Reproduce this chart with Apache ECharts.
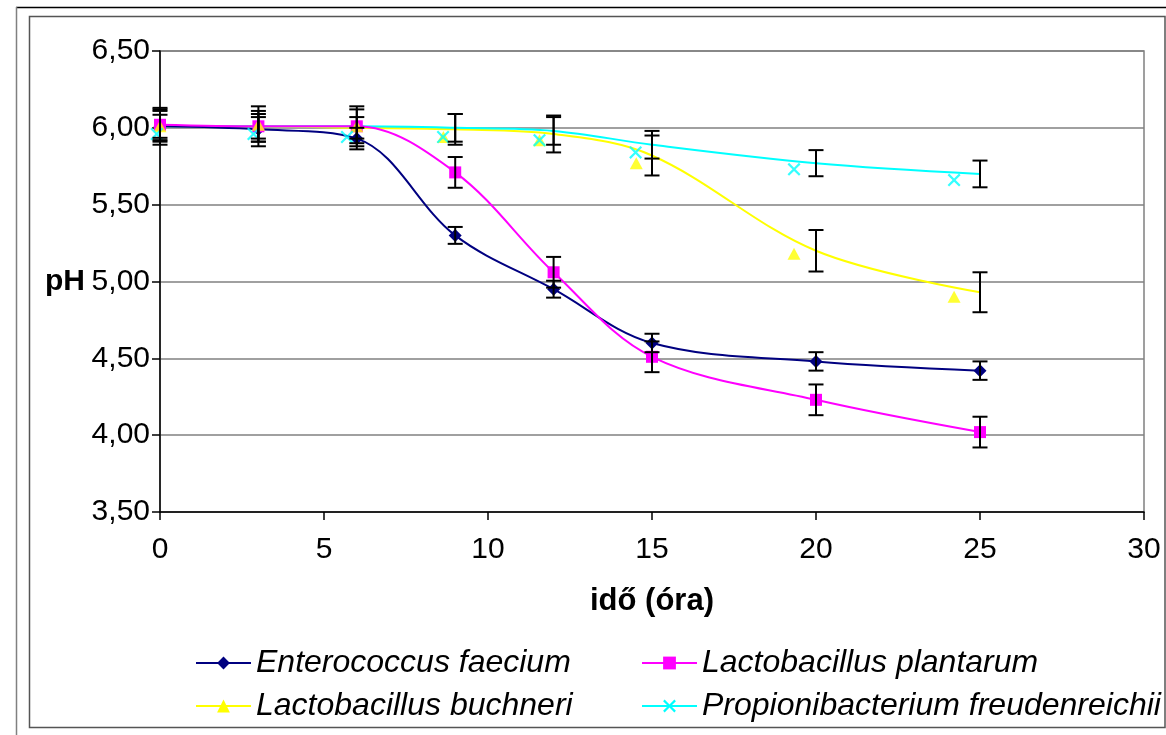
<!DOCTYPE html>
<html><head><meta charset="utf-8">
<script src="https://cdn.jsdelivr.net/npm/echarts@6/dist/echarts.min.js"></script>
<style>html,body{margin:0;padding:0;background:#fff}#c{width:1166px;height:735px}</style>
</head><body><div id="c"></div>
<script>
// ---- data ----
const timeH = [0, 3, 6, 9, 12, 15, 20, 25];

const faecium    = [6.01, 5.99, 5.93, 5.30, 4.95, 4.60, 4.48, 4.42];
const faeciumErr = [0.075, 0.08, 0.07, 0.055, 0.055, 0.06, 0.06, 0.06];

const plantarum    = [6.02, 6.01, 6.01, 5.71, 5.06, 4.51, 4.23, 4.02];
const plantarumErr = [0.10, 0.10, 0.11, 0.10, 0.10, 0.10, 0.10, 0.10];

const buchneriCurve = [6.01, 6.01, 6.00, 5.99, 5.96, 5.82, 5.20, 4.93];
const buchneriErr   = [0.12, 0.13, 0.07, 0.10, 0.12, 0.13, 0.135, 0.13];
const buchneriMarkX = [0, 3, 6, 8.64, 11.57, 14.52, 19.33, 24.21];
const buchneriMarkY = [6.01, 6.02, 6.01, 5.94, 5.92, 5.77, 5.18, 4.90];

const freudCurve = [6.01, 6.01, 6.01, 6.00, 5.98, 5.89, 5.77, 5.70];
const freudErr   = [0.10, 0.08, 0.13, 0.09, 0.09, 0.09, 0.085, 0.087];
const freudMarkX = [-0.1, 2.85, 5.7, 8.63, 11.57, 14.5, 19.33, 24.21];
const freudMarkY = [5.96, 5.96, 5.94, 5.94, 5.92, 5.84, 5.73, 5.66];

const seriesNames = ['Enterococcus faecium', 'Lactobacillus plantarum', 'Lactobacillus buchneri', 'Propionibacterium freudenreichii'];
const xAxisTitle = 'idő (óra)';
const yAxisTitle = 'pH';
const xRange = [0, 30, 5];
const yRange = [3.5, 6.5, 0.5];

// ---- helpers ----
const FONT = "'Liberation Sans', Arial, sans-serif";
const pairs = (xs, ys) => xs.map((x, i) => [x, ys[i]]);
const triples = (xs, ys, es) => xs.map((x, i) => [x, ys[i], es[i]]);
const crossPath = 'path://M0,1.2L1.2,0L5,3.8L8.8,0L10,1.2L6.2,5L10,8.8L8.8,10L5,6.2L1.2,10L0,8.8L3.8,5Z';

function renderErr(params, api) {
  const x = api.value(0), y = api.value(1), e = api.value(2);
  const t = api.coord([x, y + e]);
  const b = api.coord([x, y - e]);
  const hw = 7.5;
  const st = { stroke: '#000', lineWidth: 2 };
  return { type: 'group', children: [
    { type: 'line', shape: { x1: t[0], y1: t[1], x2: b[0], y2: b[1] }, style: st },
    { type: 'line', shape: { x1: t[0] - hw, y1: t[1], x2: t[0] + hw, y2: t[1] }, style: st },
    { type: 'line', shape: { x1: b[0] - hw, y1: b[1], x2: b[0] + hw, y2: b[1] }, style: st }
  ]};
}
function errSeries(name, ys, es) {
  return { name: name + ' err', type: 'custom', renderItem: renderErr,
    data: triples(timeH, ys, es), encode: { x: 0, y: 1 }, z: 5, silent: true };
}
const legendText = { fontFamily: FONT, fontSize: 32, fontStyle: 'italic', color: '#000' };
function legend(name, left, top) {
  return { data: [name], left: left, top: top, itemWidth: 55, itemHeight: 16,
    textStyle: legendText, selectedMode: false, padding: 0 };
}

const chart = echarts.init(document.getElementById('c'), null, { renderer: 'canvas' });
chart.setOption({
  animation: false,
  backgroundColor: '#fff',
  graphic: [
    { type: 'line', shape: { x1: 16, y1: 7.5, x2: 1166, y2: 7.5 }, style: { stroke: '#000', lineWidth: 1.5 } },
    { type: 'line', shape: { x1: 16.5, y1: 7, x2: 16.5, y2: 735 }, style: { stroke: '#808080', lineWidth: 1.5 } },
    { type: 'rect', shape: { x: 29.5, y: 16.5, width: 1135.5, height: 711 }, style: { fill: 'none', stroke: '#555', lineWidth: 1.5 } }
  ],
  grid: { left: 160, right: 22, top: 51, bottom: 223, show: true, borderColor: '#808080', borderWidth: 1.5,
    containLabel: false, outerBoundsMode: 'none' },
  xAxis: {
    type: 'value', min: xRange[0], max: xRange[1], interval: xRange[2],
    name: xAxisTitle, nameLocation: 'middle', nameGap: 74,
    nameTextStyle: { fontFamily: FONT, fontSize: 31, fontWeight: 'bold', color: '#000' },
    axisLine: { show: true, lineStyle: { color: '#000', width: 1.5 } },
    axisTick: { show: true, length: 8, lineStyle: { color: '#000', width: 1.5 } },
    axisLabel: { fontFamily: FONT, fontSize: 30, color: '#000', margin: 23 },
    splitLine: { show: false }
  },
  yAxis: {
    type: 'value', min: yRange[0], max: yRange[1], interval: yRange[2],
    name: yAxisTitle, nameLocation: 'middle', nameRotate: 0, nameGap: 75,
    nameTextStyle: { fontFamily: FONT, fontSize: 30, fontWeight: 'bold', color: '#000', align: 'right', verticalAlign: 'middle', padding: [0, 0, 6, 0] },
    axisLine: { show: true, lineStyle: { color: '#000', width: 1.5 } },
    axisTick: { show: true, length: 8, lineStyle: { color: '#000', width: 1.5 } },
    axisLabel: { fontFamily: FONT, fontSize: 30, color: '#000', margin: 10, padding: [12, 0, 0, 0],
      formatter: v => v.toFixed(2).replace('.', ',') },
    splitLine: { show: true, lineStyle: { color: '#808080', width: 1.5 } }
  },
  legend: [
    legend(seriesNames[0], 195, 647),
    legend(seriesNames[1], 641, 647),
    legend(seriesNames[2], 195, 690),
    legend(seriesNames[3], 641, 690)
  ],
  series: [
    { name: seriesNames[2], type: 'line', data: pairs(timeH, buchneriCurve), smooth: 0.35,
      showSymbol: false, symbol: 'triangle', symbolSize: [13, 12],
      lineStyle: { color: '#FFFF00', width: 2 }, itemStyle: { color: '#FFFF00' }, z: 2 },
    { name: seriesNames[3], type: 'line', data: pairs(timeH, freudCurve), smooth: 0.35,
      showSymbol: false, symbol: crossPath, symbolSize: 13,
      lineStyle: { color: '#00FFFF', width: 2 }, itemStyle: { color: '#00FFFF' }, z: 2 },
    { name: seriesNames[0], type: 'line', data: pairs(timeH, faecium), smooth: 0.35,
      symbol: 'diamond', symbolSize: 13, showAllSymbol: true,
      lineStyle: { color: '#000080', width: 2 }, itemStyle: { color: '#000080' }, z: 3 },
    { name: seriesNames[1], type: 'line', data: pairs(timeH, plantarum), smooth: 0.35,
      symbol: 'rect', symbolSize: 12, showAllSymbol: true,
      lineStyle: { color: '#FF00FF', width: 2 }, itemStyle: { color: '#FF00FF' }, z: 3 },
    { name: seriesNames[2], type: 'scatter', data: pairs(buchneriMarkX, buchneriMarkY),
      symbol: 'triangle', symbolSize: [13, 12], itemStyle: { color: '#FFFF00' }, clip: false, z: 4 },
    { name: seriesNames[3], type: 'scatter', data: pairs(freudMarkX, freudMarkY),
      symbol: crossPath, symbolSize: 13, itemStyle: { color: '#00FFFF' }, clip: false, z: 4 },
    errSeries(seriesNames[0], faecium, faeciumErr),
    errSeries(seriesNames[1], plantarum, plantarumErr),
    errSeries(seriesNames[2], buchneriCurve, buchneriErr),
    errSeries(seriesNames[3], freudCurve, freudErr)
  ]
});
</script></body></html>
